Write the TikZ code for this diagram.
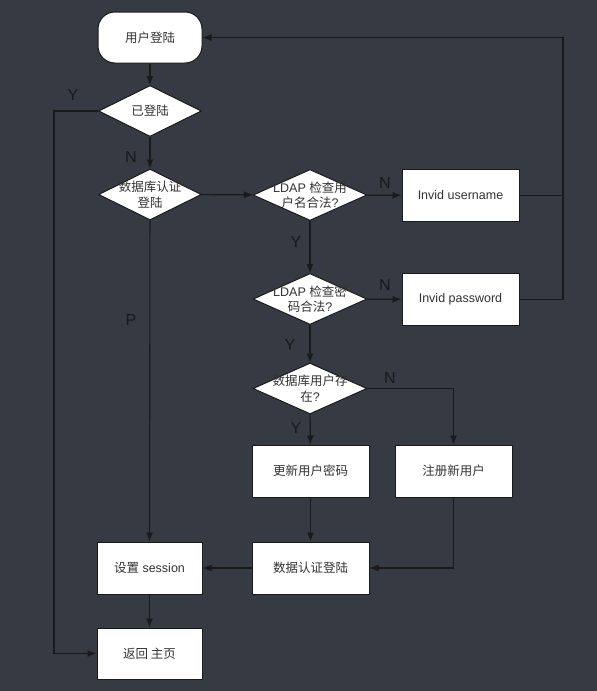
\documentclass[tikz,border=0pt]{standalone}
\usepackage{fontspec}
\setmainfont{Liberation Sans}
\newfontfamily\cjk{Noto Sans CJK SC}
\newcommand{\zh}[1]{{\cjk #1}}
\usetikzlibrary{shapes.geometric}
\usetikzlibrary{arrows.meta}
\definecolor{bg}{HTML}{363A42}
\definecolor{ink}{HTML}{1A1A1A}
\definecolor{txt}{HTML}{333333}

\begin{document}
\begin{tikzpicture}[x=1pt,y=-1pt]
\tikzset{box/.style = {shape=rectangle,draw=ink,fill=white,line width=1pt,minimum width=117pt,minimum height=52pt,font=\fontsize{12.5}{15}\selectfont,text=txt}}
\tikzset{term/.style = {box,rounded corners=17pt,minimum width=104pt,minimum height=51pt}}
\tikzset{decision/.style = {shape=diamond,draw=ink,fill=white,line width=1pt,inner sep=0pt,minimum width=114pt,minimum height=51pt}}
\tikzset{dtext/.style = {align=center,font=\fontsize{12.5}{15.5}\selectfont,text=txt,inner sep=0pt}}
\tikzset{edge/.style = {-{Latex[length=9pt,width=7pt]},draw=ink,line width=1.1pt}}
\tikzset{yn/.style = {font=\fontsize{16}{16}\selectfont,text=ink}}

\fill[bg] (0,0) rectangle (597,691);

\node[term] (start) at (150,37.5) {\zh{用户登陆}};
\node[decision,minimum width=103pt,label={[dtext]center:\zh{已登陆}}] (logged) at (150,111) {};
\node[decision,minimum width=103pt,label={[dtext]center:\zh{数据库认证}\\\zh{登陆}}] (dblogin) at (150,194.5) {};
\node[decision,label={[dtext]center:LDAP \zh{检查用}\\\zh{户名合法}?}] (ckuser) at (310,195) {};
\node[box] (baduser) at (460.5,195.5) {Invid username};
\node[decision,label={[dtext]center:LDAP \zh{检查密}\\\zh{码合法}?}] (ckpass) at (310,299) {};
\node[box] (badpass) at (460.5,299.5) {Invid password};
\node[decision,label={[dtext]center:\zh{数据库用户存}\\\zh{在}?}] (exists) at (310,388.5) {};
\node[box] (update) at (310.5,471) {\zh{更新用户密码}};
\node[box] (register) at (453.5,471) {\zh{注册新用户}};
\node[box] (dbauth) at (310.5,568) {\zh{数据认证登陆}};
\node[box,minimum width=105pt] (session) at (149.5,568) {\zh{设置} session};
\node[box,minimum width=105pt,minimum height=51pt] (home) at (149.5,653.5) {\zh{返回 主页}};

\coordinate (leftrail) at (54,111);
\coordinate (rightrail) at (563,37.5);

\draw[edge] (start) to (logged);
\draw[edge] (logged) to (dblogin);
\draw[edge] (logged.west) -- (leftrail) |- (home.west);
\draw[edge] (dblogin) to (ckuser);
\draw[edge] (dblogin) to (session);
\draw[edge] (ckuser) to (baduser);
\draw[edge] (ckuser) to (ckpass);
\draw[edge] (ckpass) to (badpass);
\draw[edge] (ckpass) to (exists);
\draw[edge] (exists) to (update);
\draw[edge] (exists.east) -| (register.north);
\draw[edge] (update) to (dbauth);
\draw[edge] (register.south) |- (dbauth.east);
\draw[edge] (dbauth) to (session);
\draw[edge] (session) to (home);
\draw[draw=ink,line width=1.1pt] (baduser.east) -- (baduser.east -| rightrail);
\draw[edge] (badpass.east) -| (rightrail) -- (start.east);

\node[yn] (ylogged) at (73,95) {Y};
\node[yn] (nlogged) at (131,157) {N};
\node[yn] (pdb) at (131,320) {P};
\node[yn] (nuser) at (385,183) {N};
\node[yn] (yuser) at (296,242) {Y};
\node[yn] (npass) at (385,285) {N};
\node[yn] (ypass) at (290,345) {Y};
\node[yn] (nexists) at (390,378) {N};
\node[yn] (yexists) at (296,428) {Y};
\end{tikzpicture}
\end{document}
